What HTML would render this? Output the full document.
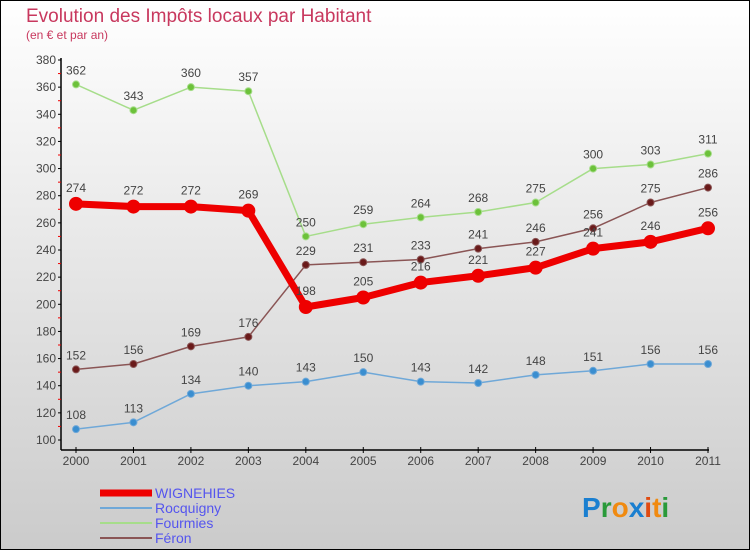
<!DOCTYPE html>
<html><head><meta charset="utf-8"><style>
body{margin:0}
svg text{font-family:"Liberation Sans",sans-serif}
</style></head><body>
<svg width="750" height="550" xmlns="http://www.w3.org/2000/svg">
<defs><linearGradient id="bg" x1="0" y1="0" x2="0" y2="1"><stop offset="0" stop-color="#ffffff"/><stop offset="1" stop-color="#cbcbcb"/></linearGradient></defs>
<rect x="0.5" y="0.5" width="749" height="549" fill="url(#bg)" stroke="#000"/>
<text x="26" y="22" font-size="19" fill="#c8385e">Evolution des Impôts locaux par Habitant</text>
<text x="26" y="39" font-size="12" fill="#c8385e">(en € et par an)</text>
<g id="axes"></g>
<g id="series"></g>
<g id="legend"></g>
<text x="582" y="517" font-size="28" font-weight="bold"><tspan fill="#1a7fd0">P</tspan><tspan fill="#2a9a3a">r</tspan><tspan fill="#f08a10">o</tspan><tspan fill="#1a7fd0">x</tspan><tspan fill="#e04a10">i</tspan><tspan fill="#f08a10">t</tspan><tspan fill="#2a9a3a">i</tspan></text>
</svg>
<script>
const years=[2000,2001,2002,2003,2004,2005,2006,2007,2008,2009,2010,2011];
const wignehies=[274,272,272,269,198,205,216,221,227,241,246,256];
const rocquigny=[108,113,134,140,143,150,143,142,148,151,156,156];
const fourmies=[362,343,360,357,250,259,264,268,275,300,303,311];
const feron=[152,156,169,176,229,231,233,241,246,256,275,286];
const yTicks=[100,120,140,160,180,200,220,240,260,280,300,320,340,360,380];
const NS="http://www.w3.org/2000/svg";
const X=i=>76+i*(632/11);
const Y=v=>440-(v-100)*(380/280);
function mk(tag,attrs,parent){const e=document.createElementNS(NS,tag);for(const k in attrs)e.setAttribute(k,attrs[k]);parent.appendChild(e);return e;}
const ax=document.getElementById('axes');
let l=mk('line',{x1:61,y1:58,x2:61,y2:450,stroke:'#000','stroke-width':1.5},ax);


l=mk('line',{x1:61,y1:450,x2:709,y2:450,stroke:'#000','stroke-width':1.5},ax);


yTicks.forEach((v,i)=>{
 const y=Y(v);
 mk('line',{x1:58,y1:y,x2:61,y2:y,stroke:'#000'},ax);
 if(i<yTicks.length-1){mk('line',{x1:58,y1:Y(v+10),x2:61,y2:Y(v+10),stroke:'#e00'},ax);}
 const t=mk('text',{x:56,y:y+4,'font-size':12,fill:'#444','text-anchor':'end'},ax);
 t.textContent=v;
 
 
});
years.forEach((yr,i)=>{
 const x=X(i);
 mk('line',{x1:x,y1:447,x2:x,y2:453,stroke:'#000'},ax);
 const t=mk('text',{x:x,y:465,'font-size':12,fill:'#444','text-anchor':'middle'},ax);
 t.textContent=yr;
 
 
});
const sg=document.getElementById('series');
function series(data,name,color,dot,w,r,labOff){
 const g=mk('g',{},sg);
 
 
 const p=mk('polyline',{points:data.map((v,i)=>X(i)+','+Y(v)).join(' '),fill:'none',stroke:color,'stroke-width':w,'stroke-linejoin':'round'},g);
 
 
 data.forEach((v,i)=>{
  const c=mk('circle',{cx:X(i),cy:Y(v),r:r,fill:dot,stroke:color,'stroke-width':1},g);
  
  
  const t=mk('text',{x:X(i),y:Y(v)-labOff,'font-size':12,fill:'#444','text-anchor':'middle'},g);
  t.textContent=v;
  
  
 });
}
series(fourmies,'fourmies','#a6dd8a','#6cc13a',1.5,3.5,10);
series(feron,'feron','#8a5555','#6a1a1a',1.5,3.5,10);
series(rocquigny,'rocquigny','#6fa8d8','#3a8ed0',1.5,3.5,10);
series(wignehies,'wignehies','#ee0000','#ee0000',7,6.5,12);
const lg=document.getElementById('legend');
const items=[['WIGNEHIES','#ee0000',7],['Rocquigny','#6fa8d8',2],['Fourmies','#a6dd8a',2],['Féron','#8a5555',2]];
items.forEach((it,i)=>{
 const y=493+i*15;
 const g=mk('g',{},lg);
 
 
 mk('line',{x1:100,y1:y,x2:152,y2:y,stroke:it[1],'stroke-width':it[2]},g);
 const t=mk('text',{x:155,y:y+5,'font-size':14,fill:'#5555ee'},g);
 t.textContent=it[0];
});
</script>
</body></html>
